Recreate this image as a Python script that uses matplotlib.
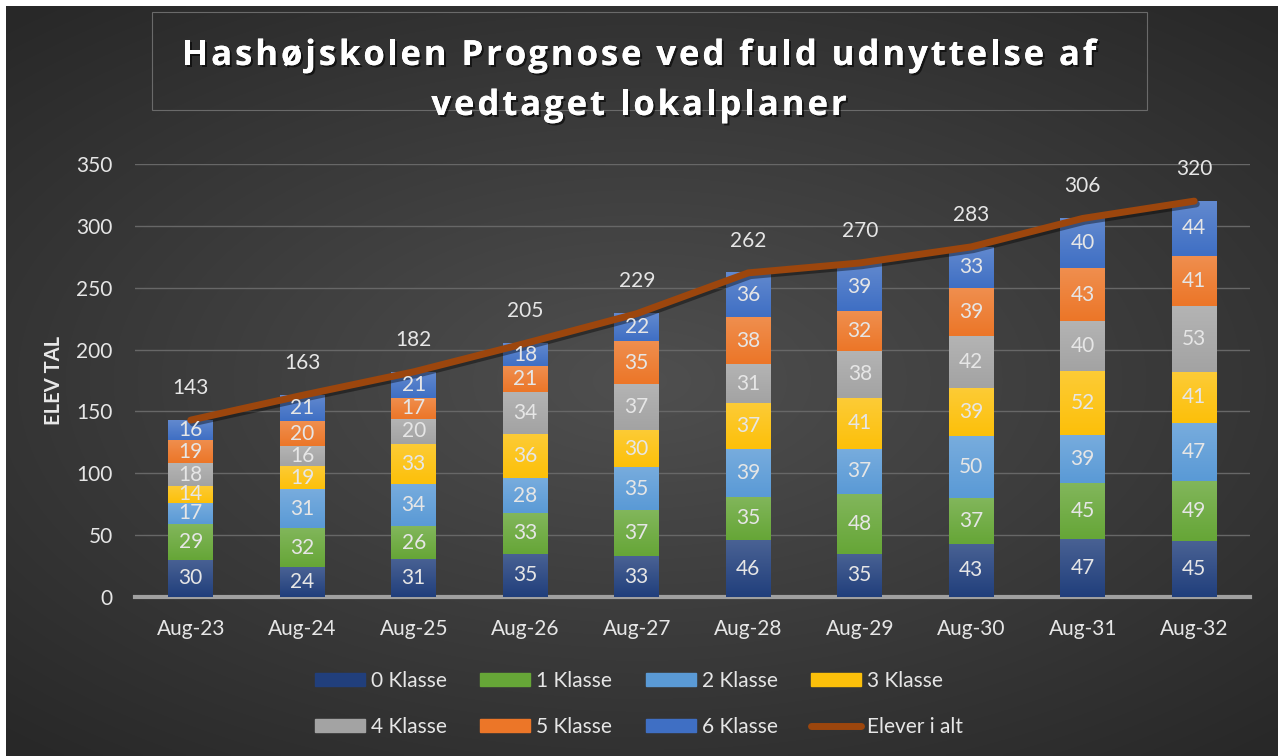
"""
Hashøjskolen elevprognose: stablede søjler pr. klassetrin + linje for elever i alt.
"""

import numpy as np
import matplotlib
matplotlib.use('Agg')
import matplotlib.pyplot as plt
import matplotlib.patheffects as pe
from matplotlib.colors import to_rgb
from matplotlib.font_manager import FontProperties
from matplotlib.patches import Rectangle
from matplotlib.lines import Line2D

years = ['Aug-23', 'Aug-24', 'Aug-25', 'Aug-26', 'Aug-27',
         'Aug-28', 'Aug-29', 'Aug-30', 'Aug-31', 'Aug-32']
klasse_0 = [30, 24, 31, 35, 33, 46, 35, 43, 47, 45]
klasse_1 = [29, 32, 26, 33, 37, 35, 48, 37, 45, 49]
klasse_2 = [17, 31, 34, 28, 35, 39, 37, 50, 39, 47]
klasse_3 = [14, 19, 33, 36, 30, 37, 41, 39, 52, 41]
klasse_4 = [18, 16, 20, 34, 37, 31, 38, 42, 40, 53]
klasse_5 = [19, 20, 17, 21, 35, 38, 32, 39, 43, 41]
klasse_6 = [16, 21, 21, 18, 22, 36, 39, 33, 40, 44]
elever_i_alt = [143, 163, 182, 205, 229, 262, 270, 283, 306, 320]

series = [klasse_0, klasse_1, klasse_2, klasse_3, klasse_4, klasse_5, klasse_6]
labels = ['0 Klasse', '1 Klasse', '2 Klasse', '3 Klasse',
          '4 Klasse', '5 Klasse', '6 Klasse']
colors = ['#213f7c', '#66a637', '#5a9ad6', '#fcc00a',
          '#a3a3a3', '#ec7628', '#3f6fc4']
line_color = '#9c460d'
text_color = '#e6e6e6'
title_lines = ['Hashøjskolen Prognose ved fuld udnyttelse af',
               'vedtaget lokalplaner']

plt.rcParams['font.family'] = ['Lato', 'DejaVu Sans']

W, H = 1278, 756
fig = plt.figure(figsize=(W / 100, H / 100), dpi=100)
fig.patch.set_facecolor('white')

# dark radial background, lighter toward the middle
bg = fig.add_axes([6 / W, 0, (W - 6) / W, (H - 6) / H])
gx, gy = np.meshgrid(np.linspace(-1, 1, 400), np.linspace(-1, 1, 240))
r = np.sqrt((gx * 0.9) ** 2 + (gy * 1.0) ** 2)
lev = 0.16 + 0.15 * np.clip(1 - r / 1.3, 0, 1)
bg.imshow(np.dstack([lev, lev, lev]), aspect='auto', extent=[0, 1, 0, 1],
          interpolation='bilinear')
bg.set_axis_off()

# title box
fig.patches.append(Rectangle((152 / W, 1 - 110 / H), 995 / W, 98 / H,
                             transform=fig.transFigure, fill=False,
                             edgecolor='#6a6a6a', linewidth=0.8))


def spaced_title(fig, text, y_px, spacing_px, prop):
    """Draw a centred line of text with extra letter spacing."""
    renderer = fig.canvas.get_renderer()
    widths = [renderer.get_text_width_height_descent(text[:i], prop, ismath=False)[0]
              for i in range(len(text) + 1)]
    total = widths[-1] + spacing_px * (len(text) - 1)
    x0 = W / 2 - total / 2
    shadow = [pe.withSimplePatchShadow(offset=(1.5, -1.5), shadow_rgbFace='black',
                                       alpha=0.6), pe.Normal()]
    for i, ch in enumerate(text):
        if ch == ' ':
            continue
        fig.text((x0 + widths[i] + i * spacing_px) / W, 1 - y_px / H, ch,
                 ha='left', va='center', fontproperties=prop, color='white',
                 path_effects=shadow)


title_prop = FontProperties(family=['Open Sans', 'DejaVu Sans'], weight='bold', size=25)
spaced_title(fig, title_lines[0], 56, 2.9, title_prop)
spaced_title(fig, title_lines[1], 106, 2.9, title_prop)

ax = fig.add_axes([135 / W, 159 / H, 1115 / W, 433 / H])
ax.set_facecolor('none')
x = np.arange(len(years))
width = 0.4


def grad_segment(ax, xc, b, v, col):
    """Fill one bar segment with a soft top-light gradient."""
    base = np.array(to_rgb(col))
    light = base + (1 - base) * 0.18
    t = np.linspace(0, 1, 32)[:, None]
    img = light[None, :] * (1 - t) + base[None, :] * t
    img = np.repeat(img[:, None, :], 2, axis=1)
    ax.imshow(img, extent=[xc - width / 2, xc + width / 2, b, b + v],
              aspect='auto', zorder=3, interpolation='bilinear')


bottom = np.zeros(len(years))
for vals, col in zip(series, colors):
    vals = np.array(vals)
    for xi, b, v in zip(x, bottom, vals):
        grad_segment(ax, xi, b, v, col)
        ax.text(xi, b + v / 2, str(v), ha='center', va='center',
                fontsize=15, color=text_color, zorder=5)
    bottom += vals

ax.plot(x, elever_i_alt, color=line_color, linewidth=5, solid_capstyle='round',
        zorder=4, path_effects=[pe.SimpleLineShadow(offset=(1.5, -2), alpha=0.4),
                                pe.Normal()])
for xi, t in zip(x, elever_i_alt):
    ax.text(xi, t + 18, str(t), ha='center', va='bottom',
            fontsize=15, color=text_color, zorder=5)

ax.set_xlim(-0.5, len(years) - 0.5)
ax.set_ylim(0, 350)
ax.set_yticks(np.arange(0, 351, 50))
ax.set_xticks(x)
ax.set_xticklabels(years)
ax.tick_params(axis='both', length=0, labelsize=15, colors=text_color)
ax.tick_params(axis='x', pad=16)
ax.tick_params(axis='y', pad=16)
ax.grid(axis='y', color='#676767', linewidth=1.0, zorder=0)
for s in ['top', 'right', 'left']:
    ax.spines[s].set_visible(False)
ax.spines['bottom'].set_color('#a0a0a0')
ax.spines['bottom'].set_linewidth(3)
ax.spines['bottom'].set_zorder(2)
ax.set_ylabel('ELEV TAL', fontsize=14.5, fontweight='bold', color='#e8e8e8', labelpad=9)

handles = [Rectangle((0, 0), 1, 1, color=c) for c in colors]
handles.append(Line2D([0], [0], color=line_color, linewidth=5, solid_capstyle='round'))
leg_labels = labels + ['Elever i alt']
# column-major ordering so the 2x4 legend fills row by row
order = [0, 4, 1, 5, 2, 6, 3, 7]
fig.legend([handles[i] for i in order], [leg_labels[i] for i in order],
           ncol=4, loc='center', bbox_to_anchor=(0.5, 1 - 704 / H),
           frameon=False, fontsize=15, labelcolor=text_color,
           handlelength=2.4, handleheight=0.6, columnspacing=1.6,
           labelspacing=1.25, handletextpad=0.3)

fig.savefig('out.png', dpi=100, facecolor=fig.get_facecolor())
